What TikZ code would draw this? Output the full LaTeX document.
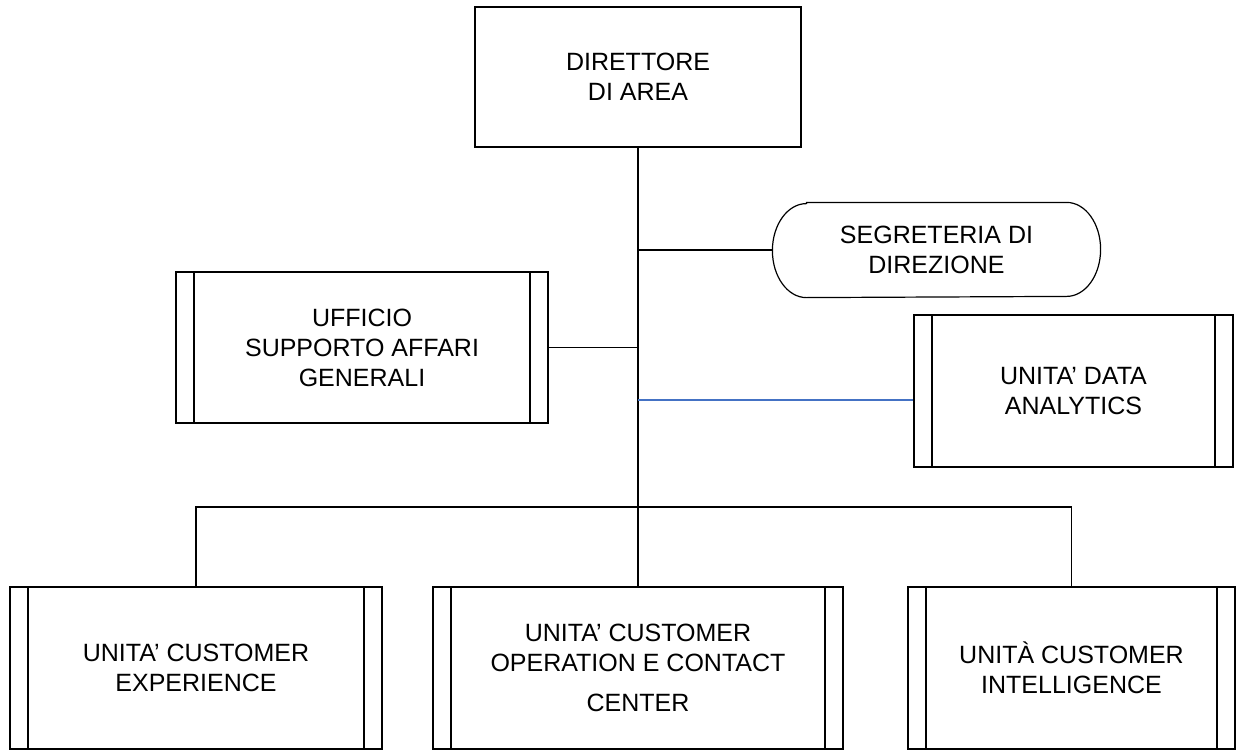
\documentclass[tikz,border=0pt]{standalone}
\usepackage{fontspec}
\setmainfont{Liberation Sans}
\usetikzlibrary{positioning, calc}
\definecolor{linkblue}{RGB}{68,114,196}
\tikzset{plain/.style={rectangle,align=center,inner sep=0pt,font=\fontsize{12.5}{15}\selectfont}}
\tikzset{box/.style={plain,draw}}
\tikzset{unit/.style={box,path picture={
	\draw[line width=0.6pt] ([xshift=9pt]path picture bounding box.north west) -- ([xshift=9pt]path picture bounding box.south west);
	\draw[line width=0.6pt] ([xshift=-9pt]path picture bounding box.north east) -- ([xshift=-9pt]path picture bounding box.south east);}}}

\begin{document}
\begin{tikzpicture}[x=0.5pt, y=-0.5pt, line width=0.6pt]
		\useasboundingbox (0,0) rectangle (1243,750);
		% Draw boxes
		\node[box, minimum width=163pt, minimum height=70pt] (dir) at (638,77) {DIRETTORE\\DI AREA};
		\node[plain, minimum width=163.5pt, minimum height=47pt] (seg) at (936.5,250) {SEGRETERIA DI\\DIREZIONE};
		\node[unit, minimum width=186pt, minimum height=75.5pt] (uff) at (362,347.5) {UFFICIO\\SUPPORTO AFFARI\\GENERALI};
		\node[unit, minimum width=159.5pt, minimum height=76pt] (dat) at (1073.5,391) {UNITA’ DATA\\ANALYTICS};
		\node[unit, minimum width=186pt, minimum height=81pt] (cx) at (196,668) {UNITA’ CUSTOMER\\EXPERIENCE};
		\node[unit, minimum width=205pt, minimum height=81pt] (cc) at (638,668) {UNITA’ CUSTOMER\\OPERATION E CONTACT\\[5pt]CENTER};
		\node[unit, minimum width=163.5pt, minimum height=81pt] (ci) at (1071.5,668) {UNITÀ CUSTOMER\\INTELLIGENCE};
		% Draw the rounded outline of the secretariat
		\draw ([xshift=17pt]seg.north west) -- ([xshift=-17pt]seg.north east)
			arc[start angle=90, end angle=-90, x radius=17pt, y radius=23.5pt]
			-- ([xshift=17pt]seg.south west)
			arc[start angle=270, end angle=90, x radius=17pt, y radius=23.5pt] -- cycle;
		% Draw connectors
		\coordinate (bus) at (638,507);
		\coordinate (tap) at (638,400);
		\draw (dir.south) -- (bus);
		\draw (seg.west) -- (seg.west -| dir.south);
		\draw (uff.east) -- (uff.east -| dir.south);
		\draw[linkblue] (tap) -- (tap -| dat.west);
		\draw (cx.north) |- (bus);
		\draw (bus) -| (ci.north);
		\draw (bus) -- (cc.north);
	\end{tikzpicture}
\end{document}
